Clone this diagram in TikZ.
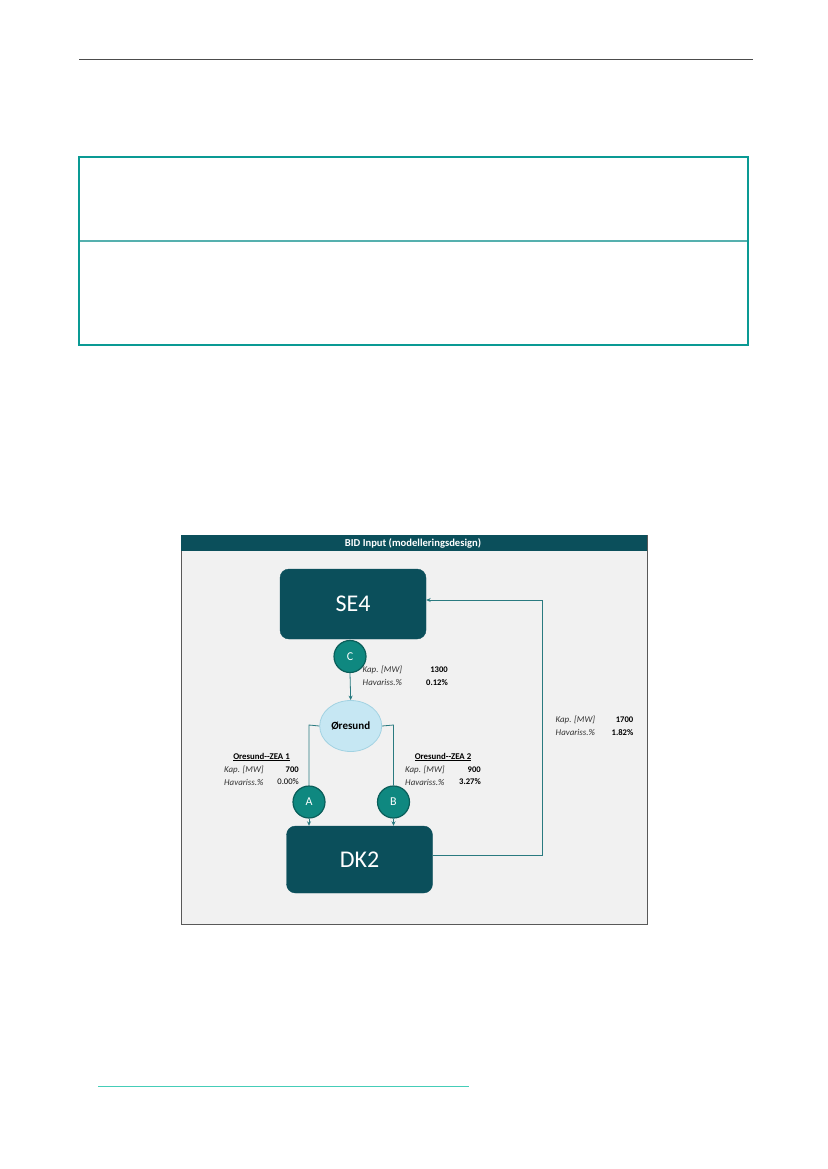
\documentclass[tikz,border=0pt]{standalone}
\usepackage{fontspec}
\setmainfont{Carlito}
\usetikzlibrary{arrows.meta,shapes.geometric}
\definecolor{darkteal}{HTML}{0B4F5B}
\definecolor{circteal}{HTML}{0F8880}
\definecolor{circedge}{HTML}{0A5E5A}
\definecolor{lineteal}{HTML}{2A7A80}
\definecolor{boxteal}{HTML}{0A9A94}
\definecolor{divteal}{HTML}{55B0AE}
\definecolor{footteal}{HTML}{45CDB8}
\definecolor{lightblue}{HTML}{C6E7F3}
\definecolor{lbedge}{HTML}{A2D2E2}
\definecolor{panelbg}{HTML}{F1F1F1}
\tikzset{
  x=1pt,y=-1pt,
  zone/.style={draw=darkteal,fill=darkteal,rounded corners=9pt,text=white,font=\fontsize{24}{24}\selectfont,inner sep=0pt},
  letter/.style={circle,draw=circedge,line width=1.2pt,fill=circteal,minimum size=32pt,inner sep=0pt,text=white,font=\fontsize{12}{12}\selectfont},
  conn/.style={draw=lineteal,line width=0.8pt},
  arr/.style={conn,-{Stealth[length=4.5pt,width=4pt]}},
  lab/.style={font=\fontsize{8.9}{9}\selectfont\itshape,text=black!80,inner sep=0pt,anchor=west},
  val/.style={font=\fontsize{8.6}{9}\selectfont\bfseries,inner sep=0pt,anchor=east},
  valn/.style={font=\fontsize{8.6}{9}\selectfont,inner sep=0pt,anchor=east},
  head/.style={font=\fontsize{8.8}{9}\selectfont\bfseries,inner sep=0pt}
}
\begin{document}
\begin{tikzpicture}
\useasboundingbox[fill=white] (0,0) rectangle (827,1169);
% page decorations
\draw[black!70,line width=0.9pt] (79,59) -- (753,59);
\draw[boxteal,line width=1.2pt] (79,157) rectangle (748,345);
\draw[divteal,line width=1.2pt] (80,241) -- (747,241);
\draw[footteal,line width=1pt] (98,1086) -- (469,1086);
% panel
\draw[black!65,line width=1pt,fill=panelbg] (181,535) rectangle (647,924);
\fill[darkteal] (181,535) rectangle (647,551);
\node[text=white,font=\fontsize{10.6}{10}\selectfont\bfseries] (title) at (413,543.5) {BID Input (modelleringsdesign)};
% zones
\node[zone,minimum width=146pt,minimum height=70pt] (se4) at (353,604) {SE4};
\node[zone,minimum width=146pt,minimum height=67pt] (dk2) at (359.5,859.5) {DK2};
% Oresund
\node[ellipse,draw=lbedge,line width=0.8pt,fill=lightblue,minimum width=62pt,minimum height=51pt,inner sep=0pt,font=\fontsize{11}{11}\selectfont\bfseries] (ore) at (350.7,726) {Øresund};
% circles
\node[letter] (C) at (350,656.5) {C};
\node[letter] (A) at (309,802) {A};
\node[letter] (B) at (393.5,802) {B};
% connectors
\draw[arr] (C.south) -- (ore.north);
\coordinate (la) at (309,725);
\coordinate (rb) at (393.5,725);
\draw[conn] (ore.west) -- (la) -- (A.north);
\draw[conn] (ore.east) -- (rb) -- (B.north);
\draw[arr] (A.south) -- (A.south |- dk2.north);
\draw[arr] (B.south) -- (B.south |- dk2.north);
\coordinate (rc1) at (542.5,855.5);
\coordinate (rc2) at (542.5,600);
\draw[arr] (dk2.east |- rc1) -- (rc1) -- (rc2) -- (se4.east |- rc2);
% labels C
\node[lab] (kc) at (362.5,670) {Kap. [MW]};
\node[val] (vc) at (448,670) {1300};
\node[lab] (hc) at (362.5,682.5) {Havariss.\%};
\node[val] (wc) at (448,682.5) {0.12\%};
% labels A
\node[head] (ta) at (261.5,757) {\underline{Oresund{-}{-}ZEA 1}};
\node[lab] (ka) at (224,769.5) {Kap. [MW]};
\node[val] (va) at (299,769.5) {700};
\node[lab] (ha) at (224,782) {Havariss.\%};
\node[valn] (wa) at (299,782) {0.00\%};
% labels B
\node[head] (tb) at (443,757) {\underline{Oresund{-}{-}ZEA 2}};
\node[lab] (kb) at (405,769.5) {Kap. [MW]};
\node[val] (vb) at (481,769.5) {900};
\node[lab] (hb) at (405,782) {Havariss.\%};
\node[val] (wb) at (481,782) {3.27\%};
% labels right
\node[lab] (kr) at (555.5,720) {Kap. [MW]};
\node[val] (vr) at (633.5,720) {1700};
\node[lab] (hr) at (555.5,732.5) {Havariss.\%};
\node[val] (wr) at (633.5,732.5) {1.82\%};
\end{tikzpicture}
\end{document}
